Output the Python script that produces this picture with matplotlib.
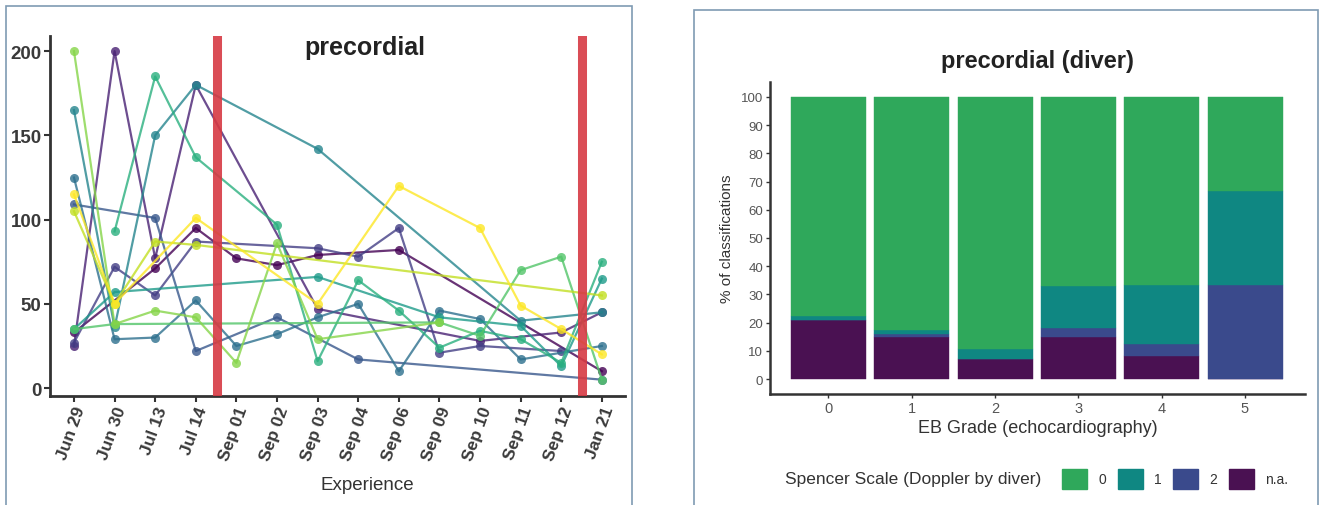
import numpy as np
import matplotlib
matplotlib.use("Agg")
import matplotlib.pyplot as plt
from matplotlib.patches import Rectangle, Patch

plt.rcParams['font.family'] = ['Liberation Sans', 'DejaVu Sans']

N = np.nan
# ---------------- left chart data ----------------
dates = ["Jun 29", "Jun 30", "Jul 13", "Jul 14", "Sep 01", "Sep 02", "Sep 03",
         "Sep 04", "Sep 06", "Sep 09", "Sep 10", "Sep 11", "Sep 12", "Jan 21"]
s01 = [33, N, 71, 95, 77, 73, 79, N, 82, N, N, N, N, 10]
s02 = [25, 200, 77, 180, N, N, 47, N, N, N, 28, N, 33, 45]
s03 = [27, 72, 55, 87, N, N, 83, 78, 95, 21, 25, N, 22, N]
s04 = [109, N, 101, 22, N, 42, N, 17, N, N, N, N, N, 5]
s05 = [125, 29, 30, 52, 25, 32, 42, 50, 10, 46, 41, 17, N, 25]
s06 = [165, 36, 150, 180, N, N, 142, N, N, N, N, 40, N, 45]
s07 = [35, 57, N, N, N, N, 66, N, N, 42, N, 37, 13, 65]
s08 = [N, 93, 185, 137, N, 97, 16, 64, 46, 24, 34, 29, 15, 75]
s09 = [35, 38, N, N, N, N, N, N, N, 39, 31, 70, 78, 5]
s10 = [200, 38, 46, 42, 15, 86, 29, N, N, 39, N, N, N, N]
s11 = [105, 50, 87, 85, N, N, N, N, N, N, N, N, N, 55]
s12 = [115, 50, N, 101, N, N, 50, N, 120, N, 95, 49, 35, 20]
series = [s01, s02, s03, s04, s05, s06, s07, s08, s09, s10, s11, s12]
y_ticks_left = [0, 50, 100, 150, 200]
red_lines = [3.52, 12.51]

# ---------------- right chart data ----------------
grades = ["0", "1", "2", "3", "4", "5"]
pct_na = [21, 15, 7, 15, 8.3, 0]
pct_2 = [0, 0.8, 0, 3, 4.2, 33.3]
pct_1 = [1.5, 1.7, 3.5, 15, 20.8, 33.4]
pct_0 = [77.5, 82.5, 89.5, 67, 66.7, 33.3]
legend_labels = ["0", "1", "2", "n.a."]
y_ticks_right = list(range(0, 101, 10))

W, H = 1321, 506
fig = plt.figure(figsize=(W / 100, H / 100), dpi=100)
fig.patch.set_facecolor("white")

def fx(px):
    return px / W

def fy(py):
    return 1 - py / H

# panel borders
fig.patches.append(Rectangle((fx(6), fy(520)), fx(626), fy(7) - fy(520),
                             transform=fig.transFigure, fill=False,
                             edgecolor="#7f9bb3", lw=1.2))
fig.patches.append(Rectangle((fx(694), fy(520)), fx(624), fy(11) - fy(520),
                             transform=fig.transFigure, fill=False,
                             edgecolor="#7f9bb3", lw=1.2))

axis_col = "#333333"

# ---------------- left axes ----------------
ax = fig.add_axes([fx(50), fy(397), fx(625) - fx(50), fy(37) - fy(397)])
cmap = plt.get_cmap("viridis")
x = np.arange(len(dates))
for i, s in enumerate(series):
    arr = np.array(s, dtype=float)
    m = ~np.isnan(arr)
    c = cmap(i / (len(series) - 1))
    ax.plot(x[m], arr[m], color=c, lw=1.6, alpha=0.8, marker="o", ms=6.5,
            markeredgewidth=0, zorder=2)
for rl in red_lines:
    ax.axvline(rl, color="#d63a44", lw=6.5, alpha=0.9, zorder=3)
ax.set_xlim(-0.59, 13.57)
ax.set_ylim(-4.7, 209)
ax.set_xticks(x)
ax.set_xticklabels(dates, rotation=70, ha="right", rotation_mode="anchor",
                   fontsize=12.5, color="#3a3a3a", fontweight="bold")
ax.set_yticks(y_ticks_left)
ax.set_yticklabels([str(v) for v in y_ticks_left], fontsize=13.5,
                   color="#3a3a3a", fontweight="bold")
for sp in ["top", "right"]:
    ax.spines[sp].set_visible(False)
for sp in ["left", "bottom"]:
    ax.spines[sp].set_color(axis_col)
    ax.spines[sp].set_linewidth(2)
ax.tick_params(axis="both", color=axis_col, width=1.5, length=4, pad=2)
ax.text(0.548, 0.97, "precordial", transform=ax.transAxes, ha="center",
        va="center", fontsize=18, fontweight="bold", color="#222222")
fig.text(fx(367), fy(486), "Experience", ha="center", va="center",
         fontsize=13.5, color="#333333")

# ---------------- right axes ----------------
ax2 = fig.add_axes([fx(770), fy(395), fx(1305) - fx(770), fy(83) - fy(395)])
col0, col1, col2, colna = "#2fa85b", "#0f8782", "#3a4a8c", "#4a1152"
xb = np.arange(len(grades))
bw = 0.9
b0 = np.zeros(len(grades))
for vals, col in [(pct_na, colna), (pct_2, col2), (pct_1, col1), (pct_0, col0)]:
    v = np.array(vals, dtype=float)
    ax2.bar(xb, v, bottom=b0, width=bw, color=col, edgecolor=col, lw=0.3)
    b0 = b0 + v
ax2.set_xlim(-0.7, 5.72)
ax2.set_ylim(-5.3, 105.3)
ax2.set_xticks(xb)
ax2.set_xticklabels(grades, fontsize=10.5, color="#555555")
ax2.set_yticks(y_ticks_right)
ax2.set_yticklabels([str(v) for v in y_ticks_right], fontsize=9.5, color="#555555")
for sp in ["top", "right"]:
    ax2.spines[sp].set_visible(False)
for sp in ["left", "bottom"]:
    ax2.spines[sp].set_color(axis_col)
    ax2.spines[sp].set_linewidth(1.8)
ax2.tick_params(axis="both", color=axis_col, width=1, length=3, pad=2)
ax2.set_title("precordial (diver)", fontsize=17, fontweight="bold",
              color="#222222", pad=11)
ax2.set_xlabel("EB Grade (echocardiography)", fontsize=13, color="#333333",
               labelpad=3)
ax2.set_ylabel("% of classifications", fontsize=11, color="#333333", labelpad=5)

fig.text(fx(785), fy(480), "Spencer Scale (Doppler by diver)", ha="left",
         va="center", fontsize=12.5, color="#333333")
handles = [Patch(facecolor=c, edgecolor=c) for c in [col0, col1, col2, colna]]
fig.legend(handles, legend_labels, loc="center left",
           bbox_to_anchor=(fx(1062), fy(480)), ncol=4, frameon=False,
           fontsize=10, handlelength=1.8, handleheight=1.85,
           handletextpad=0.8, columnspacing=0.85, borderaxespad=0,
           borderpad=0, labelcolor="#333333")

fig.savefig("out.png", dpi=100, facecolor="white")
